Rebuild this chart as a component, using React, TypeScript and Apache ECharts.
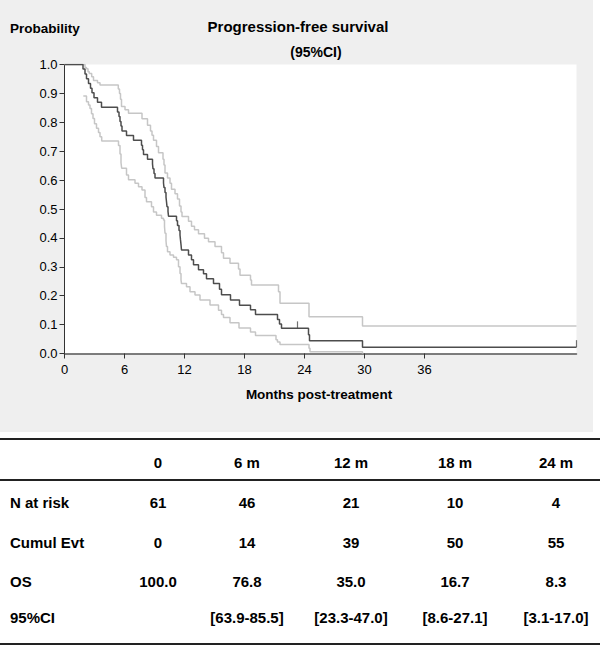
import React, { useEffect, useRef } from "react";
import * as echarts from "echarts";

// ---- Data ----
// Kaplan-Meier estimate (months, probability)
const survivalMain: [number, number][] = [
  [0, 1.0], [1.85, 0.984], [2.05, 0.967], [2.2, 0.951], [2.4, 0.934], [2.6, 0.918],
  [2.75, 0.902], [2.95, 0.885], [3.3, 0.869], [3.7, 0.852], [5.3, 0.836], [5.45, 0.82],
  [5.55, 0.803], [5.65, 0.787], [5.75, 0.77], [6.2, 0.754], [6.9, 0.738], [7.7, 0.721],
  [7.8, 0.705], [7.9, 0.689], [8.3, 0.672], [8.8, 0.656], [8.85, 0.639], [8.95, 0.623],
  [9.05, 0.607], [9.9, 0.59], [9.95, 0.574], [10.05, 0.557], [10.15, 0.541], [10.2, 0.525],
  [10.25, 0.508], [10.35, 0.492], [10.4, 0.475], [11.2, 0.459], [11.3, 0.443], [11.45, 0.426],
  [11.55, 0.41], [11.6, 0.393], [11.65, 0.377], [11.7, 0.358], [12.4, 0.341], [12.7, 0.324],
  [12.9, 0.307], [13.4, 0.29], [13.9, 0.276], [14.2, 0.259], [14.9, 0.242], [15.5, 0.222],
  [15.7, 0.203], [16.6, 0.185], [17.5, 0.167], [18.6, 0.151], [19.1, 0.135], [21.3, 0.118],
  [21.5, 0.102], [21.7, 0.087], [24.4, 0.065], [24.5, 0.044], [29.8, 0.022], [51.2, 0.022],
];
// Upper 95% CI
const survivalUpper: [number, number][] = [
  [0, 1.0], [2.05, 0.99], [2.2, 0.985], [2.35, 0.975], [2.48, 0.969], [2.72, 0.958],
  [2.9, 0.945], [3.3, 0.937], [3.55, 0.929], [5.38, 0.915], [5.5, 0.9], [5.6, 0.88],
  [5.7, 0.855], [6.05, 0.843], [6.4, 0.831], [7.75, 0.812], [8.3, 0.79], [8.6, 0.77],
  [8.75, 0.755], [8.9, 0.738], [9.2, 0.716], [9.4, 0.695], [9.85, 0.672], [9.95, 0.652],
  [10.05, 0.625], [10.3, 0.607], [10.55, 0.589], [10.7, 0.568], [11.05, 0.553], [11.3, 0.535],
  [11.5, 0.51], [11.65, 0.49], [11.75, 0.474], [12.4, 0.458], [12.7, 0.44], [13.0, 0.428],
  [13.4, 0.414], [14.0, 0.399], [14.4, 0.387], [15.05, 0.37], [15.7, 0.349], [15.9, 0.33],
  [16.55, 0.312], [17.4, 0.292], [17.55, 0.271], [18.6, 0.254], [18.7, 0.237], [21.4, 0.214],
  [21.55, 0.174], [24.45, 0.127], [29.8, 0.095], [51.2, 0.095],
];
// Lower 95% CI
const survivalLower: [number, number][] = [
  [1.88, 0.891], [2.2, 0.871], [2.4, 0.86], [2.55, 0.848], [2.7, 0.83], [2.85, 0.813],
  [3.0, 0.795], [3.2, 0.779], [3.4, 0.765], [3.55, 0.75], [3.72, 0.735], [5.4, 0.72],
  [5.55, 0.69], [5.65, 0.66], [5.72, 0.641], [6.2, 0.618], [6.4, 0.601], [7.05, 0.589],
  [7.4, 0.577], [7.75, 0.566], [8.05, 0.54], [8.2, 0.525], [8.7, 0.508], [8.9, 0.49],
  [9.2, 0.478], [9.7, 0.468], [9.9, 0.462], [10.0, 0.44], [10.05, 0.416], [10.15, 0.39],
  [10.2, 0.37], [10.3, 0.352], [10.55, 0.341], [10.9, 0.333], [11.2, 0.324], [11.4, 0.3],
  [11.55, 0.277], [11.65, 0.255], [11.7, 0.242], [12.2, 0.231], [12.55, 0.214], [13.05, 0.202],
  [13.55, 0.185], [14.55, 0.168], [15.4, 0.15], [15.7, 0.135], [15.9, 0.125], [16.55, 0.106],
  [17.45, 0.088], [18.6, 0.074], [19.1, 0.062], [21.15, 0.048], [21.3, 0.04], [21.55, 0.031],
  [24.45, 0.018], [24.55, 0.006], [29.8, 0.0],
];
// Censored observations
const censored: [number, number][] = [[23.3, 0.087], [51.2, 0.022]];

const xTicks = [0, 6, 12, 18, 24, 30, 36];

// Risk table
const tableHeader = ["0", "6 m", "12 m", "18 m", "24 m"];
const rowLabels = ["N at risk", "Cumul Evt", "OS", "95%CI"];
const nAtRisk = ["61", "46", "21", "10", "4"];
const cumulEvt = ["0", "14", "39", "50", "55"];
const osValues = ["100.0", "76.8", "35.0", "16.7", "8.3"];
const ciValues = ["", "[63.9-85.5]", "[23.3-47.0]", "[8.6-27.1]", "[3.1-17.0]"];

// ---- Layout ----
const FONT = "'Liberation Sans', Arial, sans-serif";
const colX = [158, 247, 351, 455, 556];
const headerY = 462;
const rowY = [502, 542, 581, 617];

export default function App() {
  const ref = useRef<HTMLDivElement>(null);

  useEffect(() => {
    if (!ref.current) return;
    const chart = echarts.init(ref.current, undefined, { renderer: "svg" });

    const txt = (text: string, x: number, y: number, align: string, size = 15, weight = "bold") => ({
      type: "text",
      x,
      y,
      style: {
        text,
        fill: "#000",
        font: `${weight} ${size}px ${FONT}`,
        textAlign: align,
        textVerticalAlign: "middle",
      },
    });

    const tableRows = [nAtRisk, cumulEvt, osValues, ciValues];
    const graphics: any[] = [
      { type: "rect", z: -10, shape: { x: 0, y: 0, width: 593, height: 432 }, style: { fill: "#efefef" } },
      txt("Probability", 10, 28, "left", 13.5),
      txt("Progression-free survival", 298, 26, "center", 15),
      txt("(95%CI)", 316, 52, "center", 14),
      txt("Months post-treatment", 319, 394, "center", 13.5),
      { type: "line", shape: { x1: 0, y1: 439, x2: 600, y2: 439 }, style: { stroke: "#222", lineWidth: 2 } },
      { type: "line", shape: { x1: 0, y1: 480, x2: 600, y2: 480 }, style: { stroke: "#222", lineWidth: 2 } },
      { type: "line", shape: { x1: 0, y1: 644, x2: 600, y2: 644 }, style: { stroke: "#222", lineWidth: 2 } },
    ];
    tableHeader.forEach((h, i) => graphics.push(txt(h, colX[i], headerY, "center")));
    rowLabels.forEach((l, r) => {
      graphics.push(txt(l, 10, rowY[r], "left"));
      tableRows[r].forEach((v, i) => {
        if (v) graphics.push(txt(v, colX[i], rowY[r], "center"));
      });
    });

    chart.setOption({
      animation: false,
      grid: {
        left: 64.5,
        top: 64.5,
        width: 512,
        height: 289,
        show: true,
        backgroundColor: "#ffffff",
        borderWidth: 0,
      },
      xAxis: {
        type: "value",
        min: 0,
        max: 51.2,
        interval: 6,
        splitLine: { show: false },
        axisLine: { show: true, onZero: false, lineStyle: { color: "#555", width: 1.5 } },
        axisTick: { show: true, customValues: xTicks, length: 5, lineStyle: { color: "#333" } },
        axisLabel: {
          customValues: xTicks,
          formatter: (v: number) => (v <= 36 ? String(v) : ""),
          color: "#000",
          fontSize: 13,
          fontFamily: FONT,
          margin: 9,
        },
      },
      yAxis: {
        type: "value",
        min: 0,
        max: 1,
        interval: 0.1,
        splitLine: { show: false },
        axisLine: { show: true, onZero: false, lineStyle: { color: "#333", width: 1 } },
        axisTick: { show: true, length: 5, lineStyle: { color: "#333" } },
        axisLabel: {
          formatter: (v: number) => v.toFixed(1),
          color: "#000",
          fontSize: 13,
          fontFamily: FONT,
          margin: 7,
        },
      },
      series: [
        {
          name: "Upper 95% CI",
          type: "line",
          step: "end",
          data: survivalUpper,
          showSymbol: false,
          symbol: "none",
          lineStyle: { color: "#c6c6c6", width: 1.5 },
          z: 2,
        },
        {
          name: "Lower 95% CI",
          type: "line",
          step: "end",
          data: survivalLower,
          showSymbol: false,
          symbol: "none",
          lineStyle: { color: "#c6c6c6", width: 1.5 },
          z: 2,
        },
        {
          name: "Survival",
          type: "line",
          step: "end",
          data: survivalMain,
          showSymbol: false,
          symbol: "none",
          lineStyle: { color: "#4d4d4d", width: 1.5 },
          z: 3,
        },
        {
          name: "Censored",
          type: "scatter",
          data: censored,
          symbol: "rect",
          symbolSize: [1.2, 7],
          symbolOffset: [0, -3.5],
          itemStyle: { color: "#4d4d4d" },
          z: 4,
        },
      ],
      graphic: graphics,
    });

    return () => chart.dispose();
  }, []);

  return (
    <div
      ref={ref}
      style={{ position: "fixed", left: 0, top: 0, width: 600, height: 646, background: "#ffffff" }}
    />
  );
}
